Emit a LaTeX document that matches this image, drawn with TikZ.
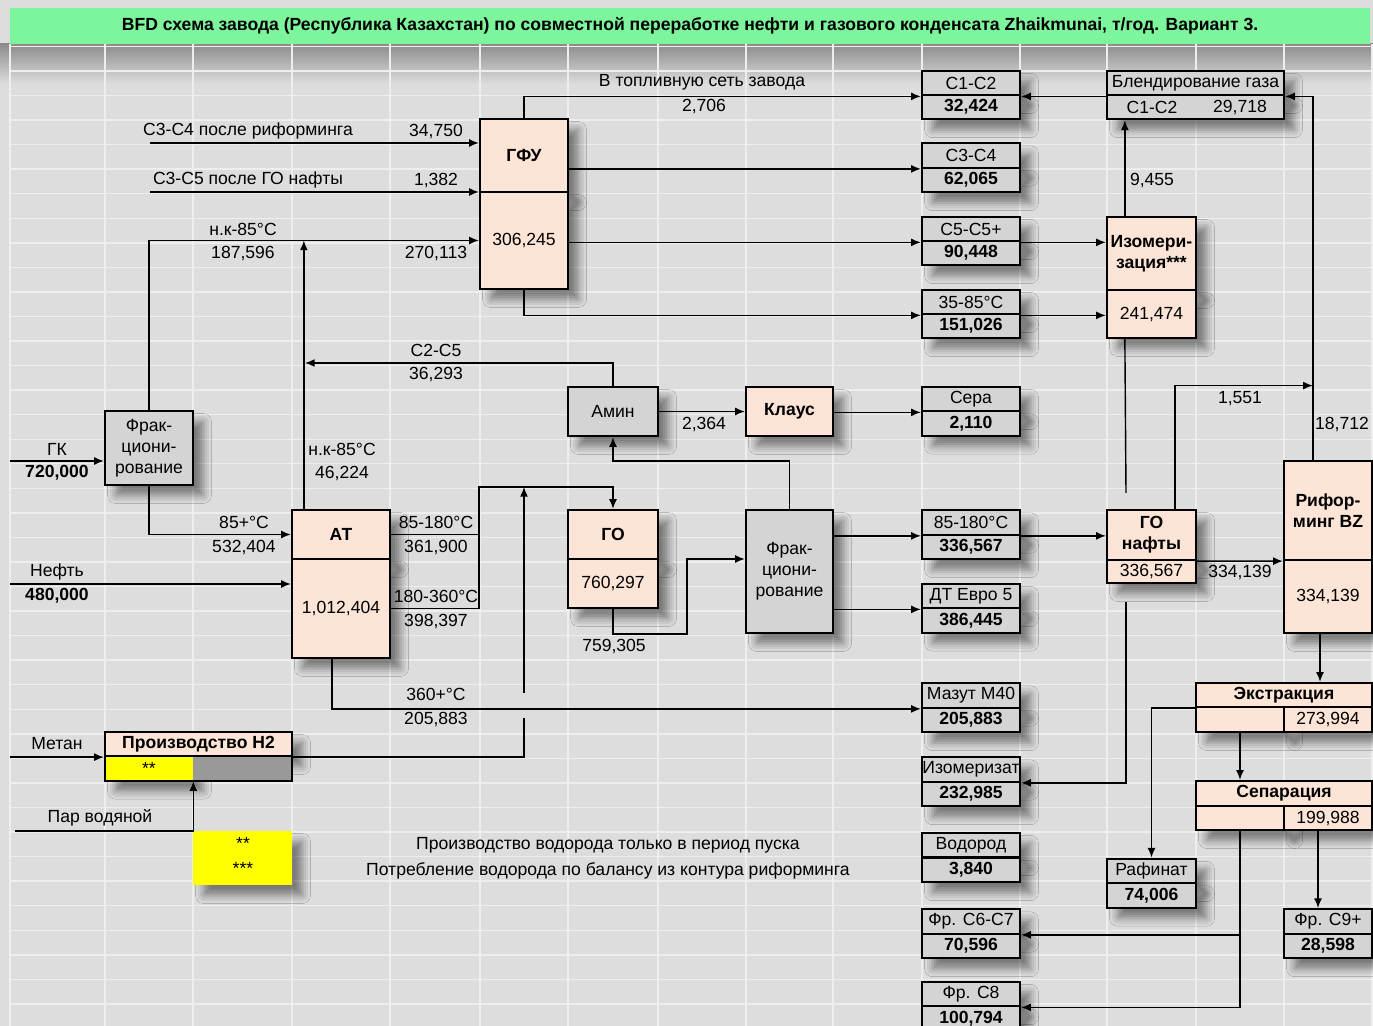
\documentclass[tikz,border=0pt]{standalone}
\usepackage{fontspec}
\setmainfont{Liberation Sans}
\usepackage{tikz}
\usetikzlibrary{positioning}
\usetikzlibrary{calc}
\usetikzlibrary{arrows.meta}
\usetikzlibrary{shadows.blur}

\definecolor{peach}{RGB}{252,228,214}
\definecolor{prodgray}{RGB}{212,212,212}
\definecolor{titlegreen}{RGB}{125,245,156}
\definecolor{bggray}{RGB}{221,221,221}
\definecolor{gridgray}{RGB}{238,238,238}
\definecolor{notebg}{RGB}{255,255,0}

\begin{document}
\begin{tikzpicture}
  [
    x=0.02cm, y=-0.02cm,
    shd/.style={blur shadow={shadow xshift=6pt, shadow yshift=-6pt,
        shadow blur radius=4.5pt, shadow opacity=45}},
    box/.style={draw=black, line width=1.3pt, inner sep=0pt, align=center, shd},
    proc/.style={box, fill=peach, font=\bfseries},
    procval/.style={box, fill=peach},
    grbox/.style={box, fill=prodgray},
    prod/.style={box, fill=prodgray, minimum width=1.96cm, minimum height=0.49cm},
    prodval/.style={prod, font=\bfseries},
    flow/.style={-{Latex[length=5.5pt,width=4.5pt]}, line width=0.8pt},
    pipe/.style={line width=0.8pt},
    lbl/.style={inner sep=1pt}
  ]
  \useasboundingbox (0,0) rectangle (1373,1026);

  % sheet background and cells
  \fill[bggray] (0,0) rectangle (1373,1026);
  \shade[top color=black!45, bottom color=bggray] (0,44) rectangle (1373,84);
  \foreach \gx in {10,105,193,292,390,480,568,658,746,833,922,1020,1107,1196,1284,1372}
    \draw[gridgray, line width=0.8pt] (\gx,44) -- (\gx,1026);
  \foreach \k in {0,...,40}
    \draw[gridgray, line width=0.8pt] (10,{46.45+24.55*\k}) -- (1373,{46.45+24.55*\k});

  \fill[titlegreen] (10,8) rectangle (1370,44);
  \node[font=\bfseries] (title) at (690,26)
    {BFD схема завода (Республика Казахстан) по совместной переработке нефти и газового конденсата Zhaikmunai, т/год. Вариант 3.};

  % process units
  \node[proc, minimum width=1.76cm, minimum height=1.46cm] (gfu) at (524,155.5) {ГФУ};
  \node[procval, minimum width=1.76cm, minimum height=1.94cm] (gfub) at (524,240.5) {306,245};
  \node[proc, minimum width=1.78cm, minimum height=1.46cm] (izo) at (1151.5,253.5) {Изомери-\\зация***};
  \node[procval, minimum width=1.78cm, minimum height=0.96cm] (izob) at (1151.5,314) {241,474};
  \node[grbox, minimum width=1.8cm, minimum height=0.98cm] (amin) at (613,411.5) {Амин};
  \node[proc, minimum width=1.74cm, minimum height=0.98cm] (klaus) at (789.5,411.5) {Клаус};
  \node[grbox, minimum width=1.76cm, minimum height=1.48cm] (frk1) at (149,448) {Фрак-\\циони-\\рование};
  \node[proc, minimum width=1.96cm, minimum height=0.98cm] (at) at (341,534.5) {АТ};
  \node[procval, minimum width=1.96cm, minimum height=1.98cm] (atb) at (341,608.5) {1,012,404};
  \node[proc, minimum width=1.8cm, minimum height=0.98cm] (go) at (613,534.5) {ГО};
  \node[procval, minimum width=1.8cm, minimum height=0.98cm] (gob) at (613,583.5) {760,297};
  \node[grbox, minimum width=1.74cm, minimum height=2.46cm] (frk2) at (789.5,571.5) {Фрак-\\циони-\\рование};
  \node[proc, minimum width=1.78cm, minimum height=1.0cm] (gon) at (1151.5,535) {ГО\\нафты};
  \node[procval, minimum width=1.78cm, minimum height=0.46cm] (gonb) at (1151.5,571.5) {336,567};
  \node[proc, minimum width=1.76cm, minimum height=1.98cm] (ref) at (1328,510.5) {Рифор-\\минг BZ};
  \node[procval, minimum width=1.76cm, minimum height=1.46cm] (refb) at (1328,596.5) {334,139};
  \node[proc, minimum width=3.52cm, minimum height=0.48cm] (ext) at (1284,695) {Экстракция};
  \node[procval, minimum width=1.76cm, minimum height=0.5cm] (extl) at (1240,719.5) {};
  \node[procval, minimum width=1.76cm, minimum height=0.5cm] (extr) at (1328,719.5) {273,994};
  \node[proc, minimum width=3.52cm, minimum height=0.5cm] (sep) at (1284,793.5) {Сепарация};
  \node[procval, minimum width=1.76cm, minimum height=0.48cm] (sepl) at (1240,818) {};
  \node[procval, minimum width=1.76cm, minimum height=0.48cm] (sepr) at (1328,818) {199,988};

  % hydrogen unit and notes
  \node[proc, minimum width=3.74cm, minimum height=0.48cm] (h2) at (198.5,744) {Производство Н2};
  \node[fill=notebg, minimum width=1.76cm, minimum height=0.49cm, inner sep=0pt, shd] (h2b) at (149,768.5) {**};
  \node[fill=black!40, minimum width=1.98cm, minimum height=0.49cm, inner sep=0pt] (h2c) at (242.5,768.5) {};
  \draw[line width=1.3pt] (h2b.north west) rectangle (h2c.south east);
  \node[fill=notebg, minimum width=1.98cm, minimum height=1.08cm, inner sep=0pt, shd] (note) at (242.5,858) {};
  \node[lbl] (n1) at (243,843) {**};
  \node[lbl] (n2) at (243,868) {***};
  \node[lbl] (t1) at (608,845) {Производство водорода только в период пуска};
  \node[lbl] (t2) at (608,871) {Потребление водорода по балансу из контура риформинга};

  % products
  \node[prod] (c12) at (971,83) {С1-С2};
  \node[prodval] (c12v) at (971,107) {32,424};
  \node[prod] (c34) at (971,155.5) {С3-С4};
  \node[prodval] (c34v) at (971,180) {62,065};
  \node[prod] (c55) at (971,229) {С5-С5+};
  \node[prodval] (c55v) at (971,253) {90,448};
  \node[prod] (f35) at (971,302) {35-85°С};
  \node[prodval] (f35v) at (971,326) {151,026};
  \node[prod] (sera) at (971,399) {Сера};
  \node[prodval] (serav) at (971,423.5) {2,110};
  \node[prod] (f85) at (971,522.5) {85-180°С};
  \node[prodval] (f85v) at (971,547) {336,567};
  \node[prod] (dt) at (971,596) {ДТ Евро 5};
  \node[prodval] (dtv) at (971,620.5) {386,445};
  \node[prod] (mazut) at (971,695.5) {Мазут М40};
  \node[prodval] (mazutv) at (971,720) {205,883};
  \node[prod] (izt) at (971,769.5) {Изомеризат};
  \node[prodval] (iztv) at (971,794) {232,985};
  \node[prod] (vod) at (971,845) {Водород};
  \node[prodval] (vodv) at (971,870) {3,840};
  \node[prod] (c67) at (971,921.5) {Фр. С6-С7};
  \node[prodval] (c67v) at (971,946) {70,596};
  \node[prod] (c8) at (971,994) {Фр. С8};
  \node[prodval] (c8v) at (971,1018.5) {100,794};
  \node[prod, minimum width=3.54cm] (bld) at (1195.5,83) {Блендирование газа};
  \node[prod, minimum width=3.54cm] (bldv) at (1195.5,107) {};
  \node[lbl] (bld1) at (1152,107) {С1-С2};
  \node[lbl] (bld2) at (1240,107) {29,718};
  \node[prod, minimum width=1.78cm] (raf) at (1151.5,871) {Рафинат};
  \node[prodval, minimum width=1.78cm] (rafv) at (1151.5,895.5) {74,006};
  \node[prod, minimum width=1.76cm] (c9) at (1328,921.5) {Фр. С9+};
  \node[prodval, minimum width=1.76cm] (c9v) at (1328,946) {28,598};

  % stream labels
  \node[lbl] (l1) at (702,82) {В топливную сеть завода};
  \node[lbl] (l2) at (704,106) {2,706};
  \node[lbl] (l3) at (248,131) {С3-С4 после риформинга};
  \node[lbl] (l4) at (436,131) {34,750};
  \node[lbl] (l5) at (248,180) {С3-С5 после ГО нафты};
  \node[lbl] (l6) at (436,180) {1,382};
  \node[lbl] (l7) at (243,229) {н.к-85°С};
  \node[lbl] (l8) at (243,253) {187,596};
  \node[lbl] (l9) at (436,253) {270,113};
  \node[lbl] (l10) at (436,350) {С2-С5};
  \node[lbl] (l11) at (436,374) {36,293};
  \node[lbl] (l12) at (342,449) {н.к-85°С};
  \node[lbl] (l13) at (342,473) {46,224};
  \node[lbl] (l14) at (57,449) {ГК};
  \node[lbl, font=\bfseries] (l15) at (57,473) {720,000};
  \node[lbl] (l16) at (244,522) {85+°С};
  \node[lbl] (l17) at (244,547) {532,404};
  \node[lbl] (l18) at (57,572) {Нефть};
  \node[lbl, font=\bfseries] (l19) at (57,596) {480,000};
  \node[lbl] (l20) at (436,522) {85-180°С};
  \node[lbl] (l21) at (436,547) {361,900};
  \node[lbl] (l22) at (436,596) {180-360°С};
  \node[lbl] (l23) at (436,621) {398,397};
  \node[lbl] (l24) at (614,646) {759,305};
  \node[lbl] (l25) at (704,424) {2,364};
  \node[lbl] (l26) at (436,694) {360+°С};
  \node[lbl] (l27) at (436,719) {205,883};
  \node[lbl] (l28) at (57,744) {Метан};
  \node[lbl] (l29) at (100,818) {Пар водяной};
  \node[lbl] (l30) at (1152,180) {9,455};
  \node[lbl] (l31) at (1240,399) {1,551};
  \node[lbl] (l32) at (1342,424) {18,712};
  \node[lbl] (l33) at (1240,572) {334,139};

  % ГФУ streams
  \draw[flow] (gfu.north) |- (c12.south west);
  \coordinate (in1) at (150,143);
  \coordinate (in2) at (150,192);
  \draw[flow] (in1) -- (in1 -| gfu.west);
  \draw[flow] (in2) -- (in2 -| gfu.west);
  \draw[flow] (frk1.north) |- (gfub.west);
  \coordinate (atup) at ([xshift=0.26cm]at.north west);
  \draw[flow] (atup) -- (atup |- gfub.west);
  \coordinate (c25) at (305,363);
  \draw[flow] (amin.north) |- (c25);
  \draw[flow] (gfu.east |- c34.south west) -- (c34.south west);
  \draw[flow] (gfub.east |- c55.south west) -- (c55.south west);
  \draw[flow] (gfub.south) |- (f35.south west);

  % isomerization and gas blending
  \draw[flow] (c55.south east) -- (c55.south east -| izo.west);
  \draw[flow] (f35.south east) -- (f35.south east -| izob.west);
  \coordinate (izup) at ([xshift=0.38cm]izo.north west);
  \draw[flow] (izup) -- (izup |- bldv.south);
  \draw[flow] (bld.south west) -- (c12.south east);
  \coordinate (refup) at ([xshift=0.6cm]ref.north west);
  \draw[flow] (refup) |- (bld.south east);
  \coordinate (gonup) at ([xshift=1.38cm]gon.north west);
  \draw[flow] (gonup) |- (refup |- sera.north);
  \coordinate (izd1) at (1126,493);
  \coordinate (izd2) at (1126,602);
  \draw[pipe] (izup |- izob.south) -- (izd1);
  \draw[flow] (izd2) |- (izt.south east);

  % АТ and ГО
  \coordinate (j1) at (479,487);
  \draw[pipe] (at.east) -- (at.east -| j1);
  \draw[flow] (atb.east) -| (j1) -| (go.north);
  \coordinate (h2x) at (524,718);
  \coordinate (h2y) at (524,693);
  \draw[pipe] (h2.south east) -| (h2x);
  \draw[flow] (h2y) -- (h2y |- j1);
  \coordinate (atdn) at ([xshift=0.82cm]atb.south west);
  \draw[flow] (atdn) |- (mazut.south west);
  \coordinate (gox) at (687,634);
  \coordinate (goy) at (687,559);
  \draw[flow] (gob.south) |- (gox) -- (goy) -- (goy -| frk2.west);
  \coordinate (fk) at (613,461);
  \draw[flow] (frk2.north) |- (fk) -- (amin.south);
  \draw[flow] (amin.east) -- (klaus.west);
  \draw[flow] (klaus.east |- sera.south west) -- (sera.south west);
  \draw[flow] (frk2.east |- f85.south west) -- (f85.south west);
  \draw[flow] (frk2.east |- dt.south west) -- (dt.south west);
  \draw[flow] (f85.south east) -- (f85.south east -| gon.west);
  \draw[flow] (gon.south east) -- (ref.south west);

  % feeds
  \coordinate (gk) at (10,461);
  \draw[flow] (gk) -- (gk -| frk1.west);
  \draw[flow] (frk1.south) |- (at.west);
  \coordinate (oil) at (10,584);
  \draw[flow] (oil) -- (oil -| at.west);
  \coordinate (met) at (10,756);
  \draw[flow] (h2.south west -| met) -- (h2.south west);
  \coordinate (par) at (15,831);
  \draw[flow] (par) -| (h2b.south east);

  % aromatics
  \coordinate (rd) at ([xshift=-0.16cm]refb.south);
  \draw[flow] (rd) -- (rd |- ext.north);
  \draw[flow] (ext.south west) -| (raf.north);
  \draw[flow] (extl.south) -- (extl.south |- sep.north);
  \draw[flow] (sepl.south) |- (c8.south east);
  \draw[flow] (sepl.south |- c67.south east) -- (c67.south east);
  \coordinate (sd) at ([xshift=-0.2cm]sepr.south);
  \draw[flow] (sd) -- (sd |- c9.north);
\end{tikzpicture}
\end{document}
